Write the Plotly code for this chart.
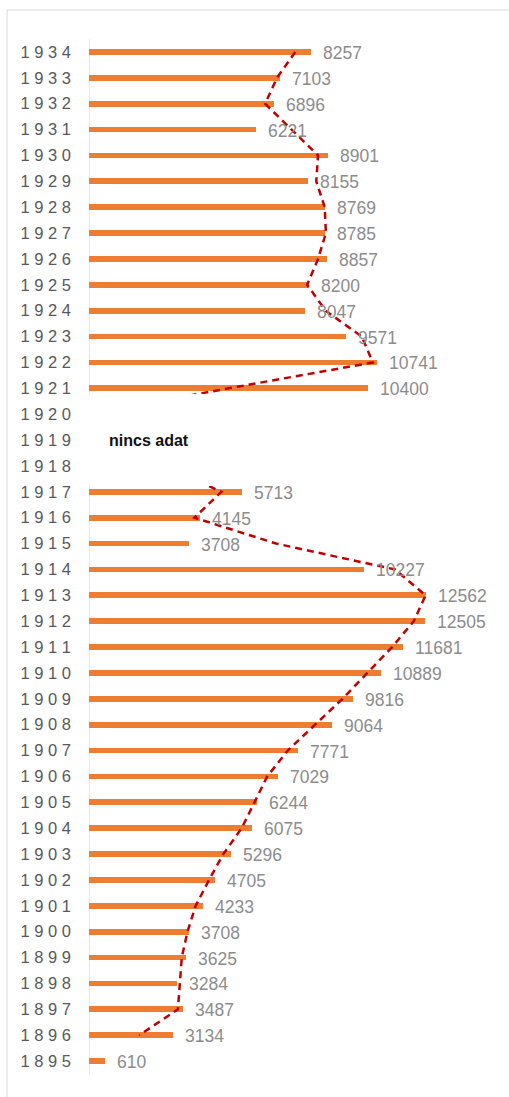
import plotly.graph_objects as go

years = list(range(1934, 1894, -1))
values = [8257, 7103, 6896, 6221, 8901, 8155, 8769, 8785, 8857, 8200, 8047, 9571, 10741, 10400,
          None, None, None,
          5713, 4145, 3708, 10227, 12562, 12505, 11681, 10889, 9816, 9064, 7771, 7029, 6244,
          6075, 5296, 4705, 4233, 3708, 3625, 3284, 3487, 3134, 610]
tick_labels = [" ".join(str(y)) for y in years]
gap_label = "nincs adat"

# 2-period moving average trendline (blank years count as zero, as in the source chart)
by_year = {y: (v if v is not None else 0) for y, v in zip(years, values)}
ma_years = [y for y in years if y - 1 in by_year]
ma_vals = [(by_year[y] + by_year[y - 1]) / 2 for y in ma_years]

bar_years = [y for y, v in zip(years, values) if v is not None]
bar_vals = [v for v in values if v is not None]

fig = go.Figure()
fig.add_trace(go.Bar(
    x=bar_vals, y=bar_years, orientation="h", width=0.22,
    marker=dict(color="#ED7D31", line=dict(width=0)),
    hoverinfo="x+y",
))
fig.add_trace(go.Scatter(
    x=ma_vals, y=ma_years, mode="lines",
    line=dict(color="#C00000", width=2.5, dash="7px,5px"),
    hoverinfo="skip",
))

for y, v in zip(bar_years, bar_vals):
    fig.add_annotation(x=v, y=y, text=str(v), showarrow=False, xanchor="left",
                       xshift=10, yshift=-1,
                       font=dict(family="Liberation Sans, Arial", size=17.5, color="#8c8c8c"))

fig.add_annotation(x=660, y=1919, text="<b>" + gap_label + "</b>", showarrow=False,
                   xanchor="left", font=dict(family="Liberation Sans, Arial", size=16, color="#111111"))

# axis line (drawn as shape so the white cover hides it in the gap)
fig.add_shape(type="line", xref="x", yref="y", x0=0, x1=0, y0=1894.5, y1=1934.55,
              line=dict(color="#d0d0d0", width=1), layer="below")
# white cover over the missing-data region
fig.add_shape(type="rect", xref="paper", yref="y", x0=-0.02, x1=0.9, y0=1917.22, y1=1920.78,
              fillcolor="white", line=dict(width=0), layer="above")
# chart border
fig.add_shape(type="rect", xref="paper", yref="paper", x0=-0.218, x1=1.3, y0=-0.2, y1=1.028,
              line=dict(color="#d9d9d9", width=1), fillcolor="rgba(0,0,0,0)", layer="below")

fig.update_layout(
    width=509, height=1097,
    margin=dict(l=89, r=44, t=39, b=23),
    paper_bgcolor="white", plot_bgcolor="white",
    showlegend=False,
    bargap=0,
)
fig.update_xaxes(range=[0, 14000], visible=False, showgrid=False, zeroline=False)
fig.update_yaxes(range=[1894.5, 1934.5], tickvals=years, ticktext=tick_labels,
                 showgrid=False, zeroline=False, showline=False, ticks="",
                 ticklabelstandoff=17,
                 tickfont=dict(family="Liberation Sans, Arial", size=16.5, color="#595959"))

fig.write_html("out.html", config={"displayModeBar": False},
               post_script="document.body.style.margin='0px';document.body.style.overflow='hidden';")
